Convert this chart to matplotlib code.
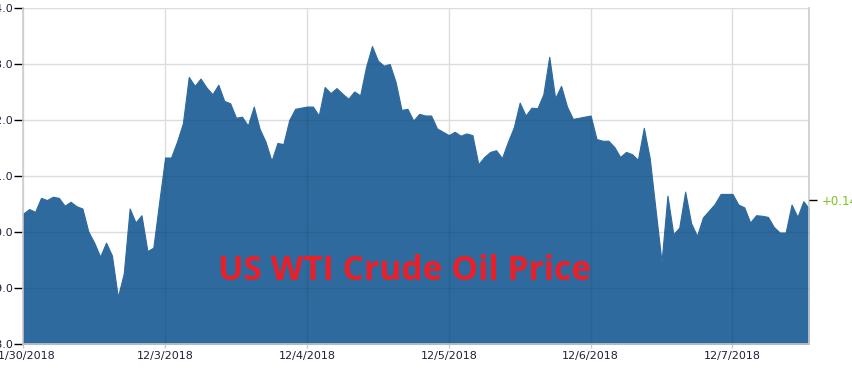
import matplotlib
matplotlib.use('Agg')
import matplotlib.pyplot as plt

# hourly WTI prices, 11/30/2018 - 12/7/2018 (weekend skipped)
precios = [
    50.33, 50.41, 50.36, 50.61, 50.57, 50.63, 50.61, 50.47, 50.54, 50.46, 50.42, 50.01,
    49.81, 49.56, 49.81, 49.58, 48.84, 49.26, 50.42, 50.17, 50.30, 49.66, 49.72, 50.54,
    51.33, 51.33, 51.61, 51.94, 52.77, 52.61, 52.74, 52.58, 52.46, 52.63, 52.34, 52.30,
    52.04, 52.06, 51.90, 52.24, 51.84, 51.61, 51.27, 51.59, 51.57, 52.00, 52.20, 52.22,
    52.24, 52.24, 52.08, 52.59, 52.48, 52.57, 52.47, 52.38, 52.51, 52.44, 52.95, 53.32,
    53.06, 52.97, 53.00, 52.68, 52.18, 52.20, 51.99, 52.11, 52.08, 52.08, 51.85, 51.79,
    51.73, 51.79, 51.72, 51.76, 51.73, 51.21, 51.34, 51.43, 51.46, 51.32, 51.61, 51.87,
    52.31, 52.08, 52.22, 52.21, 52.46, 53.13, 52.39, 52.61, 52.24, 52.02, 52.04, 52.06,
    52.08, 51.66, 51.63, 51.63, 51.52, 51.34, 51.43, 51.39, 51.29, 51.86, 51.32, 50.39,
    49.47, 50.65, 49.96, 50.08, 50.72, 50.16, 49.93, 50.26, 50.38, 50.50, 50.68, 50.68,
    50.68, 50.49, 50.44, 50.17, 50.30, 50.29, 50.27, 50.09, 49.99, 49.99, 50.49, 50.27,
    50.55, 50.41,
]
horas = list(range(len(precios)))

fechas = ['11/30/2018', '12/3/2018', '12/4/2018', '12/5/2018', '12/6/2018', '12/7/2018']
pos_fechas = [0, 24, 48, 72, 96, 120]
niveles_y = [48.0, 49.0, 50.0, 51.0, 52.0, 53.0, 54.0]

nivel_cambio = 50.57
texto_cambio = '+0.14'
titulo = 'US WTI Crude Oil Price'

azul = '#2e6a9e'
gris = '#dcdcdc'

fig = plt.figure(figsize=(8.52, 3.70), dpi=100)
ax = fig.add_axes([0.02735, 0.07027, 0.9225, 0.9081])

ax.set_xlim(0, len(precios) - 1)
ax.set_ylim(niveles_y[0], niveles_y[-1])

ax.set_yticks(niveles_y)
ax.set_yticklabels(['%.1f' % v for v in niveles_y])
ax.set_xticks(pos_fechas)
ax.set_xticklabels(fechas)

ax.grid(True, color=gris, linewidth=1.0)
ax.set_axisbelow(True)

area = ax.fill_between(horas, precios, niveles_y[0], color=azul, linewidth=0.8,
                       edgecolor=azul, zorder=2)

# grid lines look slightly darker where they cross the area
clip = area.get_paths()[0]
for v in niveles_y:
    l = ax.axhline(v, color='black', alpha=0.07, linewidth=1.0, zorder=3)
    l.set_clip_path(clip, area.get_transform())
for p in pos_fechas:
    l = ax.axvline(p, color='black', alpha=0.07, linewidth=1.0, zorder=3)
    l.set_clip_path(clip, area.get_transform())

for s in ['left', 'bottom', 'right']:
    ax.spines[s].set_color('#cccccc')
    ax.spines[s].set_linewidth(1.2)
ax.spines['top'].set_visible(False)

ax.tick_params(axis='y', length=6.5, width=1.0, color='black', pad=1,
               labelsize=8, labelcolor='#1f1f3a')
ax.tick_params(axis='x', length=3, width=1.0, color='#cccccc', pad=2,
               labelsize=8, labelcolor='#1f1f3a')

# last change marker on the right
ax2 = ax.twinx()
ax2.set_ylim(ax.get_ylim())
ax2.set_yticks([nivel_cambio])
ax2.set_yticklabels([texto_cambio])
ax2.tick_params(axis='y', length=6, width=1.0, color='black', pad=3,
                labelsize=8.5, labelcolor='#7dc21e')
for s in ax2.spines.values():
    s.set_visible(False)

ax.text(0.4856, 0.217, titulo, transform=ax.transAxes, ha='center', va='center',
        color='#e8202a', fontsize=24.2, fontweight='bold', family='Open Sans', zorder=5)

fig.savefig('out.png', dpi=100)
